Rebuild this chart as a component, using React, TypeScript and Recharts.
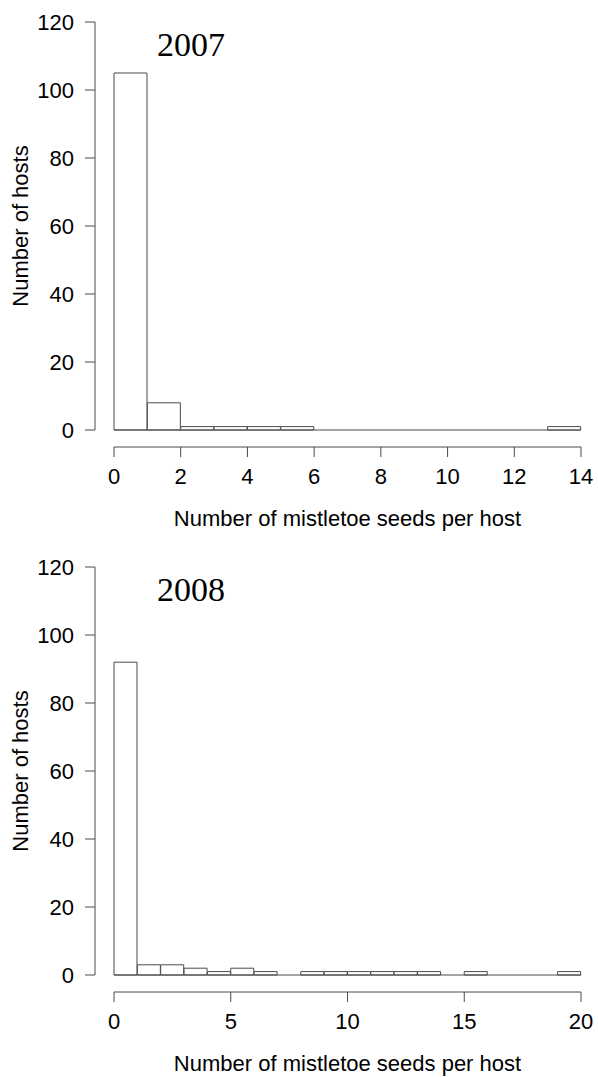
import React from 'react';
import { BarChart, Bar, XAxis, YAxis, ReferenceLine } from 'recharts';

// histogram bins (lower edge, 1 seed wide) and host counts
const binStarts2007 = [0, 1, 2, 3, 4, 5, 6, 7, 8, 9, 10, 11, 12, 13];
const counts2007 = [105, 8, 1, 1, 1, 1, 0, 0, 0, 0, 0, 0, 0, 1];
const xTicks2007 = [0, 2, 4, 6, 8, 10, 12, 14];

const binStarts2008 = [0, 1, 2, 3, 4, 5, 6, 7, 8, 9, 10, 11, 12, 13, 14, 15, 16, 17, 18, 19];
const counts2008 = [92, 3, 3, 2, 1, 2, 1, 0, 1, 1, 1, 1, 1, 1, 0, 1, 0, 0, 0, 1];
const xTicks2008 = [0, 5, 10, 15, 20];

const yTicks = [0, 20, 40, 60, 80, 100, 120];

const SANS = '"Liberation Sans", Arial, sans-serif';
const SERIF = '"Liberation Serif", "Times New Roman", serif';
const LINE = '#4a4a4a';

interface HistogramProps {
  year: string;
  binStarts: number[];
  counts: number[];
  xTicks: number[];
  height: number;
  bottomHeight: number;
  marginBottom: number;
}

const YLabel = (props: any) => {
  const { viewBox } = props;
  const cx = viewBox.x + 28;
  const cy = viewBox.y + viewBox.height / 2;
  return (
    <text
      x={cx}
      y={cy}
      transform={`rotate(-90 ${cx} ${cy})`}
      textAnchor="middle"
      fontFamily={SANS}
      fontSize={22}
      fill="#000"
    >
      Number of hosts
    </text>
  );
};

const XLabel = (props: any) => {
  const { viewBox } = props;
  return (
    <text
      x={viewBox.x + viewBox.width / 2}
      y={viewBox.y + 78.75}
      textAnchor="middle"
      fontFamily={SANS}
      fontSize={22}
      fill="#000"
    >
      Number of mistletoe seeds per host
    </text>
  );
};

const Histogram = ({ year, binStarts, counts, xTicks, height, bottomHeight, marginBottom }: HistogramProps) => {
  const data = binStarts.map((start, i) => ({ start, count: counts[i] }));
  const last = xTicks[xTicks.length - 1];

  return (
    <BarChart
      width={598}
      height={height}
      data={data}
      margin={{ top: 22, right: 17, left: 0, bottom: marginBottom }}
      barCategoryGap={0}
      barGap={0}
    >
      {/* inner axes: carry the bars, draw nothing, give R's axis offset */}
      <XAxis xAxisId="bins" dataKey="start" height={17} tick={false} axisLine={false} tickLine={false} />
      <YAxis yAxisId="hosts" domain={[0, 120]} width={19} tick={false} axisLine={false} tickLine={false} />

      <XAxis
        xAxisId="seeds"
        dataKey="start"
        type="number"
        domain={[0, last]}
        ticks={xTicks}
        allowDataOverflow
        height={bottomHeight}
        stroke={LINE}
        tickSize={10}
        tickMargin={11}
        interval={0}
        tick={{ fill: '#000', fontSize: 22, fontFamily: SANS }}
        label={<XLabel />}
      />
      <YAxis
        yAxisId="scale"
        type="number"
        domain={[0, 120]}
        ticks={yTicks}
        allowDataOverflow
        width={95}
        stroke={LINE}
        tickSize={10}
        tickMargin={11}
        interval={0}
        tick={{ fill: '#000', fontSize: 22, fontFamily: SANS }}
        label={<YLabel />}
      />

      <ReferenceLine xAxisId="bins" yAxisId="hosts" y={0} stroke={LINE} />
      <Bar
        xAxisId="bins"
        yAxisId="hosts"
        dataKey="count"
        fill="#fff"
        stroke={LINE}
        strokeWidth={1}
        isAnimationActive={false}
      />

      <text x={157} y={56} fontFamily={SERIF} fontSize={34} fill="#000">
        {year}
      </text>
    </BarChart>
  );
};

export default function App() {
  return (
    <div style={{ position: 'fixed', top: 0, left: 0, width: 598, height: 1077, background: '#fff' }}>
      <Histogram
        year="2007"
        binStarts={binStarts2007}
        counts={counts2007}
        xTicks={xTicks2007}
        height={545}
        bottomHeight={90}
        marginBottom={8}
      />
      <Histogram
        year="2008"
        binStarts={binStarts2008}
        counts={counts2008}
        xTicks={xTicks2008}
        height={532}
        bottomHeight={85}
        marginBottom={0}
      />
    </div>
  );
}
